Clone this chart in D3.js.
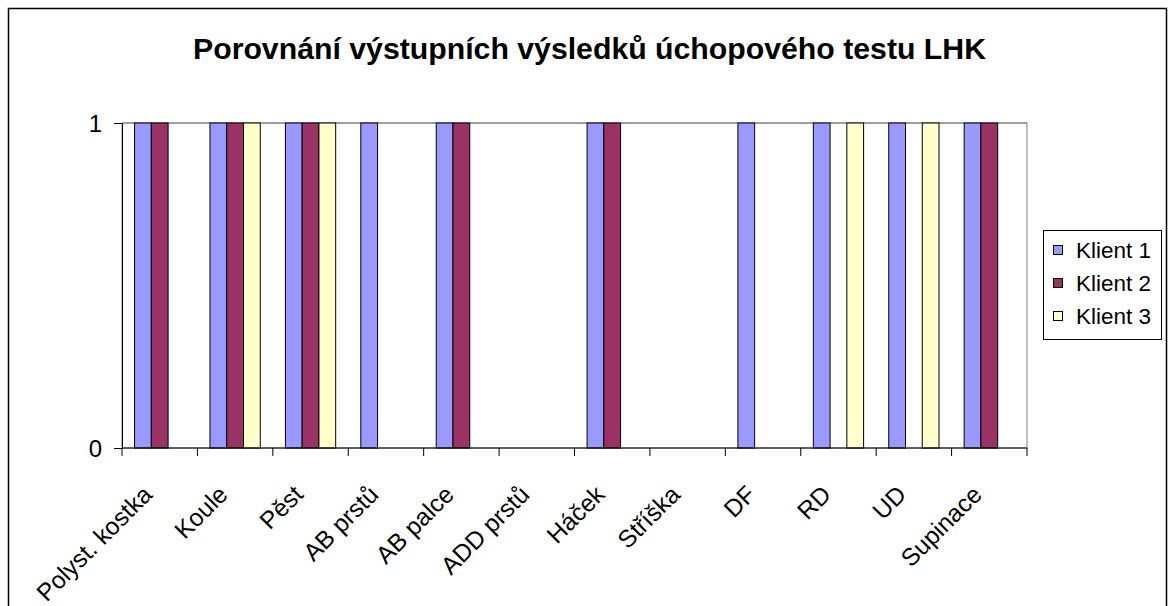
<!DOCTYPE html>
<html>
<head>
<meta charset="utf-8">
<script src="https://cdn.jsdelivr.net/npm/d3@7"></script>
<style>
  body { margin: 0; background: #fff; }
  text { font-family: Arial, "Liberation Sans", sans-serif; fill: #000; }
</style>
</head>
<body>
<div id="chartArea"></div>
<script>
const categories = ['Polyst. kostka', 'Koule', 'Pěst', 'AB prstů', 'AB palce', 'ADD prstů',
  'Háček', 'Stříška', 'DF', 'RD', 'UD', 'Supinace'];
const seriesNames = ['Klient 1', 'Klient 2', 'Klient 3'];
const klient1 = [1, 1, 1, 1, 1, 0, 1, 0, 1, 1, 1, 1];
const klient2 = [1, 1, 1, 0, 1, 0, 1, 0, 0, 0, 0, 1];
const klient3 = [0, 1, 1, 0, 0, 0, 0, 0, 0, 1, 1, 0];
const yTicks = [0, 1];
const colors = ['#9999FF', '#993366', '#FFFFCC'];
const title = 'Porovnání výstupních výsledků úchopového testu LHK';

const seriesValues = [klient1, klient2, klient3];

const width = 1169;
const height = 606;
const margin = { top: 123, left: 122, bottom: 158, right: 142 };
const iwidth = width - margin.left - margin.right;
const iheight = height - margin.top - margin.bottom;

const svg = d3.select('#chartArea').append('svg')
  .attr('width', width)
  .attr('height', height);

// chart border (runs off the bottom of the picture)
svg.append('rect')
  .attr('x', 8.5).attr('y', 8.5)
  .attr('width', 1158).attr('height', 640)
  .attr('fill', 'none').attr('stroke', '#000').attr('stroke-width', 1.5);

svg.append('text')
  .attr('x', 589.5).attr('y', 59)
  .attr('text-anchor', 'middle')
  .attr('font-size', 29).attr('font-weight', 'bold')
  .attr('textLength', 793).attr('lengthAdjust', 'spacingAndGlyphs')
  .text(title);

const g = svg.append('g')
  .attr('transform', `translate(${margin.left},${margin.top})`);

const x = d3.scaleBand().domain(categories).range([0, iwidth]).padding(0);
const x1 = d3.scaleBand().domain(seriesNames).range([0, x.bandwidth()])
  .paddingInner(0).paddingOuter(0.75);
const y = d3.scaleLinear().domain([0, 1]).range([iheight, 0]);

// plot area frame
g.append('rect')
  .attr('x', 0).attr('y', 0).attr('width', iwidth).attr('height', iheight)
  .attr('fill', 'none').attr('stroke', '#808080');

// gridlines
g.selectAll('.grid').data(yTicks.filter((t) => t > 0)).enter()
  .append('line')
  .attr('x1', 0).attr('x2', iwidth)
  .attr('y1', (d) => y(d)).attr('y2', (d) => y(d))
  .attr('stroke', '#808080');

// bars
const barData = [];
categories.forEach((c, i) => {
  seriesNames.forEach((s, j) => {
    if (seriesValues[j][i] > 0) barData.push({ c, s, v: seriesValues[j][i], j });
  });
});
g.selectAll('rect.bar').data(barData).enter()
  .append('rect')
  .attr('class', 'bar')
  .attr('x', (d) => x(d.c) + x1(d.s))
  .attr('y', (d) => y(d.v))
  .attr('width', x1.bandwidth())
  .attr('height', (d) => iheight - y(d.v))
  .attr('fill', (d) => colors[d.j])
  .attr('stroke', '#000');

// Y-Axis
const yAxis = g.append('g').call(d3.axisLeft(y).tickValues(yTicks)
  .tickFormat(d3.format('d')).tickSizeInner(8).tickSizeOuter(0).tickPadding(12));
yAxis.select('.domain').attr('stroke', '#000');
yAxis.selectAll('text').attr('font-size', 24).attr('dy', '0.36em');

// X-Axis with ticks at category boundaries
const bounds = d3.range(categories.length + 1).map((i) => i * x.step());
const xAxis = g.append('g').attr('transform', `translate(0,${iheight})`);
xAxis.append('line').attr('x1', 0).attr('x2', iwidth).attr('stroke', '#000');
xAxis.selectAll('.tk').data(bounds).enter().append('line')
  .attr('x1', (d) => d).attr('x2', (d) => d)
  .attr('y1', 0).attr('y2', 8).attr('stroke', '#000');
xAxis.selectAll('.lbl').data(categories).enter().append('text')
  .attr('text-anchor', 'end')
  .attr('font-size', 24.5)
  .attr('transform', (d) => `translate(${x(d) + x.bandwidth() / 2 - 6},48) rotate(-45)`)
  .text((d) => d);

// legend
const legend = svg.append('g').attr('transform', 'translate(1043,230)');
legend.append('rect')
  .attr('x', 0.5).attr('y', 0.5).attr('width', 118).attr('height', 109)
  .attr('fill', '#fff').attr('stroke', '#000');
const items = legend.selectAll('.item').data(seriesNames).enter().append('g')
  .attr('transform', (d, i) => `translate(0,${20 + i * 33})`);
items.append('rect')
  .attr('x', 10.5).attr('y', -4.5).attr('width', 9).attr('height', 9)
  .attr('fill', (d, i) => colors[i]).attr('stroke', '#000');
items.append('text')
  .attr('x', 33).attr('y', 8)
  .attr('font-size', 22.5)
  .text((d) => d);
</script>
</body>
</html>
